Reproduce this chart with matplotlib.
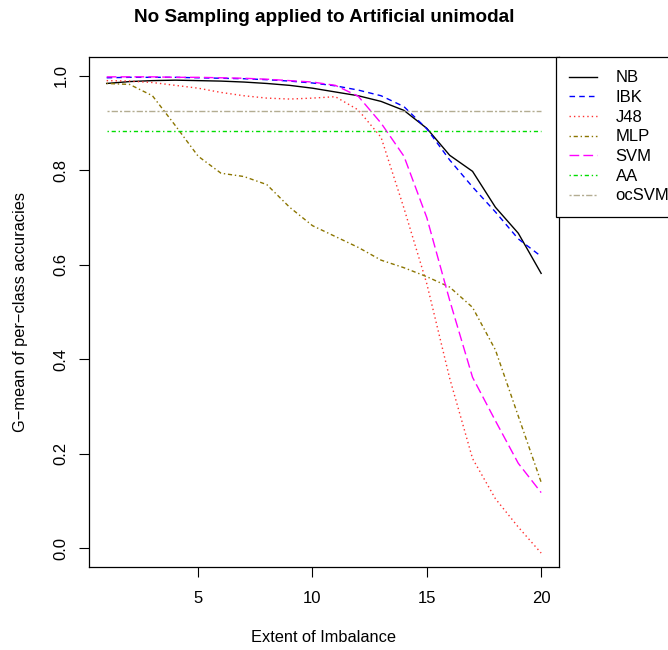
import numpy as np
import matplotlib
matplotlib.use('Agg')
import matplotlib.pyplot as plt

plt.rcParams['font.family'] = ['Liberation Sans', 'DejaVu Sans']

# data
imbalance = np.arange(1, 21)
nb = [0.984, 0.988, 0.990, 0.991, 0.990, 0.989, 0.987, 0.984, 0.980, 0.974,
      0.966, 0.958, 0.946, 0.927, 0.889, 0.832, 0.798, 0.722, 0.667, 0.582]
ibk = [0.996, 0.997, 0.997, 0.997, 0.996, 0.995, 0.994, 0.992, 0.989, 0.985,
       0.979, 0.970, 0.958, 0.935, 0.888, 0.822, 0.765, 0.712, 0.655, 0.618]
j48 = [0.990, 0.989, 0.986, 0.980, 0.974, 0.965, 0.958, 0.953, 0.951, 0.953,
       0.956, 0.928, 0.870, 0.720, 0.560, 0.360, 0.190, 0.105, 0.045, -0.010]
mlp = [0.984, 0.982, 0.958, 0.895, 0.830, 0.794, 0.787, 0.770, 0.722, 0.683,
       0.660, 0.637, 0.610, 0.594, 0.575, 0.553, 0.510, 0.420, 0.280, 0.140]
svm = [0.998, 0.998, 0.998, 0.997, 0.997, 0.996, 0.995, 0.993, 0.990, 0.987,
       0.980, 0.957, 0.900, 0.830, 0.700, 0.525, 0.362, 0.270, 0.180, 0.118]
aa = 0.883
ocsvm = 0.925

names = ['NB', 'IBK', 'J48', 'MLP', 'SVM', 'AA', 'ocSVM']
colors = ['black', '#0000ff', '#ff3030', '#8b7500', '#ff00ff', '#00dd00', '#b3ad92']
dashes = [None, (4, 3), (1, 2.2), (1, 2, 3, 2), (7, 3), (1, 2, 3, 2), (1.5, 1.5, 4.5, 1.5)]
series = [nb, ibk, j48, mlp, svm, [aa] * 20, [ocsvm] * 20]

fig = plt.figure(figsize=(6.68, 6.5), dpi=100)
ax = fig.add_axes([0.1337, 0.1272, 0.7024, 0.7851])

for name, c, d, ys in zip(names, colors, dashes, series):
    line, = ax.plot(imbalance, ys, color=c, lw=1.0, label=name)
    if d is not None:
        line.set_dashes(d)

ax.set_xlim(0.24, 20.76)
ax.set_ylim(-0.0402, 1.040)
ax.set_xticks([5, 10, 15, 20])
ax.set_yticks([0.0, 0.2, 0.4, 0.6, 0.8, 1.0])
ax.set_yticklabels(['0.0', '0.2', '0.4', '0.6', '0.8', '1.0'], rotation=90, va='center')
ax.tick_params(direction='out', length=7, width=0.8, labelsize=12, pad=8)
ax.tick_params(axis='x', pad=10)
for s in ax.spines.values():
    s.set_linewidth(0.9)

fig.text(324 / 668, 1 - 18 / 650, 'No Sampling applied to Artificial unimodal',
         fontsize=13.6, fontweight='bold', ha='center', va='center')
ax.set_xlabel('Extent of Imbalance', fontsize=11.8, va='center')
ax.xaxis.set_label_coords(0.5, -0.1385)
ax.set_ylabel('G\u2212mean of per\u2212class accuracies', fontsize=11.8, va='center')
ax.yaxis.set_label_coords(-0.1477, 0.5)

leg = ax.legend(loc='upper left', bbox_to_anchor=(0.994, 1.0), borderaxespad=0,
                fontsize=12, fancybox=False, edgecolor='black', framealpha=1,
                handlelength=1.7, handletextpad=1.1, labelspacing=0.28,
                borderpad=0.8)
leg.get_frame().set_linewidth(0.9)
leg.set_clip_on(False)

fig.savefig('out.png', dpi=100)
